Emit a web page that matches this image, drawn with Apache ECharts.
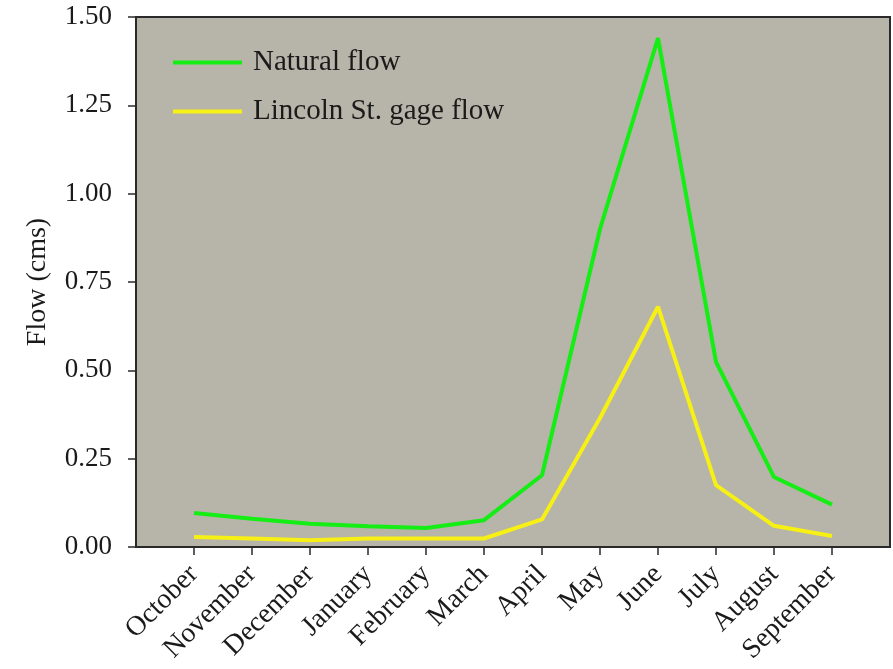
<!DOCTYPE html>
<html>
<head>
<meta charset="utf-8">
<script src="https://cdn.jsdelivr.net/npm/echarts@6/dist/echarts.min.js"></script>
<style>
  html, body { margin: 0; padding: 0; background: #ffffff; }
  #chart { width: 893px; height: 669px; }
</style>
</head>
<body>
<div id="chart"></div>
<script>
// Water year months, October through September
const months = ['October', 'November', 'December', 'January', 'February', 'March',
                'April', 'May', 'June', 'July', 'August', 'September'];

// Mean monthly flow (cms)
const naturalFlow = [0.096, 0.080, 0.066, 0.059, 0.054, 0.076, 0.203, 0.90, 1.44, 0.524, 0.198, 0.120];
const lincolnFlow = [0.028, 0.024, 0.019, 0.024, 0.024, 0.024, 0.078, 0.365, 0.68, 0.175, 0.060, 0.031];

const yTicks = [0, 0.25, 0.5, 0.75, 1.0, 1.25, 1.5];
const monthIdx = months.map((m, i) => i);

const font = 'Liberation Serif, Times New Roman, serif';
const ink = '#1a1a1a';

const chart = echarts.init(document.getElementById('chart'), null, { renderer: 'canvas' });

chart.setOption({
  animation: false,
  backgroundColor: '#ffffff',
  grid: {
    left: 136, right: 3, top: 17, bottom: 122,
    show: true,
    backgroundColor: '#b7b4a9',
    borderColor: '#2a2a2a',
    borderWidth: 2
  },
  legend: {
    orient: 'vertical',
    left: 168,
    top: 43,
    icon: 'rect',
    itemWidth: 69,
    itemHeight: 4,
    itemGap: 20,
    textStyle: { fontFamily: font, fontSize: 29, lineHeight: 29, color: ink, padding: [0, 0, 0, 6] },
    data: ['Natural flow', 'Lincoln St. gage flow']
  },
  xAxis: {
    type: 'value',
    min: -1,
    max: 12,
    interval: 1,
    splitLine: { show: false },
    axisLine: { show: true, onZero: false, lineStyle: { color: '#2a2a2a', width: 2 } },
    axisTick: { show: true, length: 8, customValues: monthIdx, lineStyle: { color: '#2a2a2a', width: 1.5 } },
    axisLabel: {
      customValues: monthIdx,
      rotate: 45,
      margin: 23,
      fontFamily: font,
      fontSize: 28,
      color: ink,
      formatter: v => months[Math.round(v)] || ''
    }
  },
  yAxis: {
    type: 'value',
    min: 0,
    max: 1.5,
    interval: 0.25,
    name: 'Flow (cms)',
    nameLocation: 'middle',
    nameGap: 84,
    nameRotate: 90,
    nameTextStyle: { fontFamily: font, fontSize: 28, color: ink },
    splitLine: { show: false },
    axisLine: { show: true, onZero: false, lineStyle: { color: '#2a2a2a', width: 2 } },
    axisTick: { show: true, length: 8, customValues: yTicks, lineStyle: { color: '#2a2a2a', width: 1.5 } },
    axisLabel: {
      margin: 24,
      fontFamily: font,
      fontSize: 27,
      color: ink,
      formatter: v => v.toFixed(2)
    }
  },
  series: [
    {
      name: 'Natural flow',
      type: 'line',
      symbol: 'none',
      color: '#14ee14',
      lineStyle: { width: 4, color: '#14ee14' },
      data: naturalFlow.map((v, i) => [i, v])
    },
    {
      name: 'Lincoln St. gage flow',
      type: 'line',
      symbol: 'none',
      color: '#f7f014',
      lineStyle: { width: 4, color: '#f7f014' },
      data: lincolnFlow.map((v, i) => [i, v])
    }
  ]
});
</script>
</body>
</html>
